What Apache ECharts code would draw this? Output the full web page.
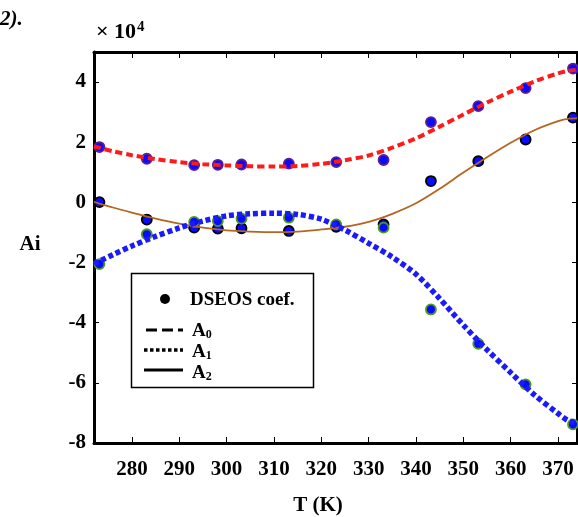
<!DOCTYPE html>
<html>
<head>
<meta charset="utf-8">
<script src="https://cdn.jsdelivr.net/npm/echarts@6/dist/echarts.min.js"></script>
<style>
html,body{margin:0;padding:0;background:#fff;}
#chart{width:578px;height:517px;}
</style>
</head>
<body>
<div id="chart"></div>
<script>
// Temperatures of the DSEOS coefficient points (K)
var pointT = [273.15, 283.15, 293.15, 298.15, 303.15, 313.15, 323.15, 333.15, 343.15, 353.15, 363.15, 373.15];
// DSEOS coefficients (x 10^4)
var a0Points = [1.84, 1.45, 1.24, 1.25, 1.26, 1.29, 1.34, 1.41, 2.67, 3.20, 3.80, 4.45];
var a1Points = [-2.05, -1.06, -0.65, -0.62, -0.54, -0.51, -0.73, -0.84, -3.56, -4.70, -6.05, -7.38];
var a2Points = [0.01, -0.57, -0.84, -0.87, -0.86, -0.95, -0.81, -0.73, 0.71, 1.37, 2.09, 2.82];
// Fitted curves
var curveT = [272, 276, 280, 285, 290, 295, 300, 305, 310, 315, 320, 325, 330, 335, 340, 345, 350, 355, 360, 365, 370, 372, 374];
var a0Curve = [1.86, 1.70, 1.57, 1.44, 1.34, 1.27, 1.23, 1.20, 1.19, 1.21, 1.28, 1.40, 1.56, 1.82, 2.13, 2.52, 2.92, 3.32, 3.68, 4.02, 4.29, 4.37, 4.41];
var a1Curve = [-2.04, -1.74, -1.45, -1.13, -0.85, -0.62, -0.45, -0.38, -0.36, -0.40, -0.56, -0.92, -1.36, -1.82, -2.39, -3.20, -4.08, -4.90, -5.66, -6.40, -7.02, -7.24, -7.34];
var a2Curve = [0.02, -0.17, -0.34, -0.54, -0.71, -0.84, -0.93, -0.97, -0.99, -0.97, -0.90, -0.81, -0.65, -0.38, -0.03, 0.45, 0.99, 1.50, 1.98, 2.40, 2.70, 2.78, 2.79];
var xTicks = [280, 290, 300, 310, 320, 330, 340, 350, 360, 370];
var yTicks = [-8, -6, -4, -2, 0, 2, 4];

function pairs(xs, ys) { return xs.map(function (x, i) { return [x, ys[i]]; }); }

var FONT = '"Liberation Serif", "Times New Roman", serif';
var chart = echarts.init(document.getElementById('chart'), null, {renderer: 'canvas'});

var xBase = {
  type: 'value', min: 272, max: 374, gridIndex: 0,
  splitLine: {show: false},
  axisLine: {show: true, onZero: false, lineStyle: {color: '#000', width: 3}},
  axisTick: {show: true, inside: true, length: 6, customValues: xTicks, lineStyle: {color: '#000', width: 1}},
  axisLabel: {show: true, customValues: xTicks, margin: 16, color: '#000', fontFamily: FONT, fontWeight: 'bold', fontSize: 21}
};
var yBase = {
  type: 'value', min: -8, max: 5, gridIndex: 0,
  splitLine: {show: false},
  axisLine: {show: true, onZero: false, lineStyle: {color: '#000', width: 3}},
  axisTick: {show: true, inside: true, length: 5, customValues: yTicks, lineStyle: {color: '#000', width: 1}},
  axisLabel: {show: true, customValues: yTicks, margin: 8, color: '#000', fontFamily: FONT, fontWeight: 'bold', fontSize: 21,
    formatter: function (v) { return String(v); }}
};

function scatter(name, data, border, z) {
  return {
    name: name, type: 'scatter', data: data, symbol: 'circle', symbolSize: 10, z: z,
    itemStyle: {color: '#0a0aff', borderColor: border, borderWidth: 1.8, opacity: 1}
  };
}
function line(name, data, color, width, dash, z) {
  return {
    name: name, type: 'line', data: data, smooth: 0.3, showSymbol: false, symbol: 'none', z: z,
    lineStyle: {color: color, width: width, type: dash, cap: 'butt'}
  };
}

var option = {
  animation: false,
  backgroundColor: '#fff',
  grid: {left: 94, right: 1, top: 52, bottom: 74, containLabel: false},
  xAxis: [
    xBase,
    Object.assign({}, xBase, {position: 'top', axisLabel: {show: false}, axisLine: {show: true, onZero: false, lineStyle: {color: '#000', width: 3}}})
  ],
  yAxis: [
    yBase,
    Object.assign({}, yBase, {position: 'right', axisLabel: {show: false}, axisLine: {show: true, onZero: false, lineStyle: {color: '#000', width: 2}}})
  ],
  series: [
    scatter('A0 points', pairs(pointT, a0Points), '#5b1f8f', 2),
    scatter('A2 points', pairs(pointT, a2Points), '#000000', 2),
    scatter('A1 points', pairs(pointT, a1Points), '#4e9a1c', 2),
    line('A0', pairs(curveT, a0Curve), '#ff1a1a', 4, [7, 4], 5),
    line('A2', pairs(curveT, a2Curve), '#b5651d', 1.8, 'solid', 5),
    line('A1', pairs(curveT, a1Curve), '#1a1aff', 5.5, [5, 3], 6)
  ],
  graphic: [
    {type: 'text', left: 0, top: 9, style: {text: '2).', font: 'italic bold 21px ' + FONT, fill: '#000'}},
    {type: 'text', left: 96, top: 20, style: {
      text: '× 10{sup|4}', font: 'bold 22px ' + FONT, fill: '#000',
      rich: {sup: {font: 'bold 15px ' + FONT, verticalAlign: 'top', padding: [0, 0, 10, 1]}}
    }},
    {type: 'text', x: 30, y: 245, style: {text: 'Ai', font: 'bold 21px ' + FONT, fill: '#000', align: 'center', verticalAlign: 'middle'}},
    {type: 'text', x: 318, y: 506, style: {text: 'T (K)', font: 'bold 21px ' + FONT, fill: '#000', align: 'center', verticalAlign: 'middle'}},
    // legend box
    {type: 'rect', z: 50, shape: {x: 131.5, y: 273.5, width: 182, height: 114}, style: {fill: '#fff', stroke: '#000', lineWidth: 1.5}},
    {type: 'circle', z: 51, shape: {cx: 165, cy: 299, r: 5}, style: {fill: '#000'}},
    {type: 'text', z: 51, x: 190, y: 300, style: {text: 'DSEOS coef.', font: 'bold 19px ' + FONT, fill: '#000', verticalAlign: 'middle'}},
    {type: 'line', z: 51, shape: {x1: 146, y1: 330, x2: 183, y2: 330}, style: {stroke: '#000', lineWidth: 3, lineDash: [11, 5]}},
    {type: 'text', z: 51, x: 192, y: 331, style: {text: 'A{sub|0}', font: 'bold 19px ' + FONT, fill: '#000', verticalAlign: 'middle',
      rich: {sub: {font: 'bold 12px ' + FONT, padding: [8, 0, 0, 0]}}}},
    {type: 'line', z: 51, shape: {x1: 144, y1: 350, x2: 183, y2: 350}, style: {stroke: '#000', lineWidth: 3.5, lineDash: [3.5, 2.5]}},
    {type: 'text', z: 51, x: 192, y: 352, style: {text: 'A{sub|1}', font: 'bold 19px ' + FONT, fill: '#000', verticalAlign: 'middle',
      rich: {sub: {font: 'bold 12px ' + FONT, padding: [8, 0, 0, 0]}}}},
    {type: 'line', z: 51, shape: {x1: 144, y1: 370, x2: 183, y2: 370}, style: {stroke: '#000', lineWidth: 3}},
    {type: 'text', z: 51, x: 192, y: 373, style: {text: 'A{sub|2}', font: 'bold 19px ' + FONT, fill: '#000', verticalAlign: 'middle',
      rich: {sub: {font: 'bold 12px ' + FONT, padding: [8, 0, 0, 0]}}}}
  ]
};
chart.setOption(option);
</script>
</body>
</html>
